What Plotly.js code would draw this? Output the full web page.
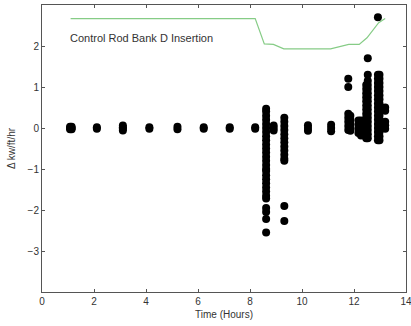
<!DOCTYPE html>
<html>
<head>
<meta charset="utf-8">
<script src="https://cdn.plot.ly/plotly-3.0.1.min.js"></script>
<style>html,body{margin:0;padding:0;background:#fff;}#chart{width:411px;height:326px;}</style>
</head>
<body>
<div id="chart"></div>
<script>
// Control rod bank D insertion curve (display units on the same y axis)
const rodTime = [1.1, 8.2, 8.55, 8.9, 9.3, 11.1, 11.8, 12.2, 12.5, 12.95, 13.2];
const rodLevel = [2.67, 2.67, 2.05, 2.04, 1.93, 1.93, 2.04, 2.04, 2.2, 2.57, 2.67];

const clusterTimes = [1.08, 1.14, 2.11, 3.11, 4.13, 5.21, 6.22, 7.22, 8.2,
  8.62, 8.91, 9.32, 10.23, 11.12, 11.78, 11.86, 12.17, 12.27, 12.47, 12.53,
  12.92, 12.98, 13.2];
const clusterValues = [
  [-0.03, 0.0, 0.03],
  [-0.03, 0.0, 0.03],
  [-0.02, 0.02],
  [-0.06, -0.02, 0.02, 0.06],
  [-0.02, 0.02],
  [-0.03, 0.03],
  [-0.02, 0.02],
  [-0.02, 0.02],
  [-0.02, 0.02],
  [0.47, 0.4, 0.3, 0.2, 0.1, 0.0, -0.1, -0.2, -0.3, -0.4, -0.5, -0.6, -0.7, -0.8, -0.9, -1.0,
   -1.05, -1.15, -1.25, -1.35, -1.45, -1.55, -1.65, -1.72, -1.95, -2.05, -2.22, -2.55],
  [-0.06, 0.0, 0.06],
  [0.25, 0.15, 0.05, -0.05, -0.15, -0.25, -0.35, -0.45, -0.55, -0.65, -0.75, -0.8, -1.9, -2.27],
  [-0.07, 0.0, 0.07],
  [-0.08, 0.0, 0.08],
  [1.2, 1.0, 0.35, 0.25, 0.15, 0.05, -0.05],
  [0.3, 0.2, 0.1, 0.0, -0.07],
  [0.18, 0.08, -0.02, -0.12],
  [0.18, 0.08, -0.02, -0.12, -0.18],
  [1.05, 0.95, 0.85, 0.75, 0.65, 0.55, 0.45, 0.35, 0.25, 0.15, 0.05, -0.05, -0.15, -0.25],
  [1.7, 1.3, 1.15, 1.05, 0.95, 0.85, 0.75, 0.65, 0.55, 0.45, 0.35, 0.25, 0.15, 0.05, -0.05, -0.15, -0.25],
  [2.7, 1.3, 1.2, 1.1, 1.0, 0.9, 0.8, 0.7, 0.6, 0.5, 0.4, 0.3, 0.2, 0.1, 0.0, -0.1, -0.2, -0.3],
  [1.3, 1.2, 1.1, 1.0, 0.9, 0.8, 0.7, 0.6, 0.5, 0.4, 0.3, 0.2, 0.1, 0.0, -0.1, -0.2, -0.3],
  [0.5, 0.42, 0.15, 0.07, -0.02]
];

const xTicks = [0, 2, 4, 6, 8, 10, 12, 14];
const yTicks = [-3, -2, -1, 0, 1, 2];

const px = [], py = [];
clusterTimes.forEach((t, i) => {
  clusterValues[i].forEach(v => { px.push(t); py.push(v); });
});

const font = {family: 'Liberation Sans, Arial, Helvetica, sans-serif', size: 10, color: '#333'};

const traces = [
  {x: rodTime, y: rodLevel, type: 'scatter', mode: 'lines',
   line: {color: '#86cc86', width: 1.2}, hoverinfo: 'skip'},
  {x: px, y: py, type: 'scatter', mode: 'markers',
   marker: {color: '#000', size: 8, line: {width: 0}}}
];

const layout = {
  width: 411, height: 326,
  margin: {l: 42, r: 5, t: 5, b: 34},
  paper_bgcolor: '#fff', plot_bgcolor: '#fff',
  showlegend: false,
  font: font,
  xaxis: {
    range: [0, 14], tickvals: xTicks, ticktext: xTicks.map(String),
    ticks: 'inside', ticklen: 3, tickcolor: '#555', mirror: 'ticks',
    ticklabeloverflow: 'allow',
    showline: true, linecolor: '#555', linewidth: 1, showgrid: false, zeroline: false,
    title: {text: 'Time (Hours)', font: font, standoff: 4},
    tickfont: font
  },
  yaxis: {
    range: [-4, 3], tickvals: yTicks, ticktext: yTicks.map(v => v < 0 ? '\u2212' + Math.abs(v) : String(v)),
    ticks: 'inside', ticklen: 3, tickcolor: '#555', mirror: 'ticks',
    showline: true, linecolor: '#555', linewidth: 1, showgrid: false, zeroline: false,
    title: {text: '\u0394 kw/ft/hr', font: font, standoff: 10},
    tickfont: font
  },
  annotations: [{
    x: 1.0, y: 2.2, xref: 'x', yref: 'y', xanchor: 'left', yanchor: 'middle',
    text: 'Control Rod Bank D Insertion', showarrow: false,
    font: {family: 'Liberation Sans, Arial, Helvetica, sans-serif', size: 11, color: '#333'}
  }]
};

Plotly.newPlot('chart', traces, layout, {displayModeBar: false, staticPlot: true});
</script>
</body>
</html>
